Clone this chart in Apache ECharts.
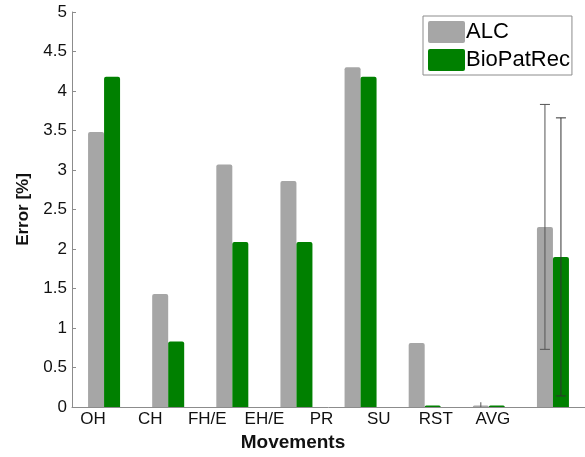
<!DOCTYPE html>
<html>
<head>
<meta charset="utf-8">
<script src="https://cdn.jsdelivr.net/npm/echarts@6/dist/echarts.min.js"></script>
<style>html,body{margin:0;padding:0;background:#fff}#c{width:585px;height:457px}</style>
</head>
<body>
<div id="c"></div>
<script>
const categories = ['OH','CH','FH/E','EH/E','PR','SU','RST','AVG'];
const alcValues = [3.48, 1.43, 3.07, 2.86, 4.30, 0.81, 0.02, 2.28];
const bioValues = [4.18, 0.83, 2.09, 2.09, 4.18, 0.02, 0.02, 1.90];
const alcErrors = [0, 0, 0, 0, 0, 0, 0.04, 1.55];
const bioErrors = [0, 0, 0, 0, 0, 0, 0, 1.76];
const yTicks = [0, 0.5, 1, 1.5, 2, 2.5, 3, 3.5, 4, 4.5, 5];

const GRAY = '#a6a6a6', GREEN = '#008000', AXIS = '#8c8c8c', FONT = 'Liberation Sans, Arial, sans-serif';
const SWATCH = 'path://M2,0 L35,0 Q37,0 37,2 L37,20 Q37,22 35,22 L2,22 Q0,22 0,20 L0,2 Q0,0 2,0 Z';

function errRender(offsetSign, color) {
  return function (params, api) {
    const i = api.value(0), v = api.value(1), e = api.value(2);
    if (!e) return null;
    const bw = 16;
    const c = api.coord([i, v]);
    const x = c[0] + offsetSign * bw / 2;
    const top = api.coord([i, v + e])[1];
    const bot = api.coord([i, Math.max(v - e, 0)])[1];
    const cap = e > 0.1 ? 5 : 0;
    const st = { stroke: color, lineWidth: 1 };
    return {
      type: 'group', children: [
        { type: 'line', shape: { x1: x, y1: top, x2: x, y2: bot }, style: st },
        { type: 'line', shape: { x1: x - cap, y1: top, x2: x + cap, y2: top }, style: st },
        { type: 'line', shape: { x1: x - cap, y1: bot, x2: x + cap, y2: bot }, style: st }
      ]
    };
  };
}

const chart = echarts.init(document.getElementById('c'));
chart.setOption({
  animation: false,
  textStyle: { fontFamily: FONT },
  grid: [
    { left: 72, right: 0, top: 12, bottom: 50 },
    { left: 64.5, width: 457, top: 12, bottom: 50 }
  ],
  legend: {
    data: ['ALC', 'BioPatRec'],
    orient: 'vertical', left: 423, top: 16,
    itemWidth: 37, itemHeight: 22, itemGap: 6,
    padding: [5, 2, 4, 5],
    borderColor: '#8c8c8c', borderWidth: 1,
    icon: SWATCH,
    textStyle: { fontSize: 22, color: '#000', fontFamily: FONT, padding: [0, 0, 0, -4] }
  },
  xAxis: [
    { type: 'category', gridIndex: 0, data: categories,
      axisLine: { lineStyle: { color: AXIS } }, axisTick: { show: false }, axisLabel: { show: false } },
    { type: 'category', gridIndex: 1, data: categories,
      axisLine: { show: false }, axisTick: { show: false },
      axisLabel: { fontSize: 17, color: '#111', margin: 6, fontFamily: FONT },
      name: 'Movements', nameLocation: 'middle', nameGap: 28,
      nameTextStyle: { fontSize: 19, fontWeight: 'bold', color: '#111', fontFamily: FONT } }
  ],
  yAxis: [
    { type: 'value', gridIndex: 0, min: 0, max: 5, interval: 0.5,
      axisLine: { show: true, lineStyle: { color: AXIS } },
      axisTick: { show: true, inside: true, length: 4, lineStyle: { color: AXIS } },
      splitLine: { show: false },
      axisLabel: { fontSize: 17, color: '#111', margin: 5, fontFamily: FONT,
        formatter: v => yTicks.includes(v) ? String(v) : '' },
      name: 'Error [%]', nameLocation: 'middle', nameGap: 40, nameRotate: 90,
      nameTextStyle: { fontSize: 17, fontWeight: 'bold', color: '#111', fontFamily: FONT } },
    { type: 'value', gridIndex: 1, min: 0, max: 5, show: false }
  ],
  series: [
    { name: 'ALC', type: 'bar', xAxisIndex: 0, yAxisIndex: 0, data: alcValues,
      barWidth: 16, barGap: '0%', itemStyle: { color: GRAY, borderRadius: [2, 2, 0, 0] } },
    { name: 'BioPatRec', type: 'bar', xAxisIndex: 0, yAxisIndex: 0, data: bioValues,
      barWidth: 16, barGap: '0%', itemStyle: { color: GREEN, borderRadius: [2, 2, 0, 0] } },
    { type: 'custom', xAxisIndex: 0, yAxisIndex: 0, z: 5,
      data: categories.map((c, i) => [i, alcValues[i], alcErrors[i]]),
      renderItem: errRender(-1, '#555') },
    { type: 'custom', xAxisIndex: 0, yAxisIndex: 0, z: 5,
      data: categories.map((c, i) => [i, bioValues[i], bioErrors[i]]),
      renderItem: errRender(1, '#333') }
  ]
});
</script>
</body>
</html>
